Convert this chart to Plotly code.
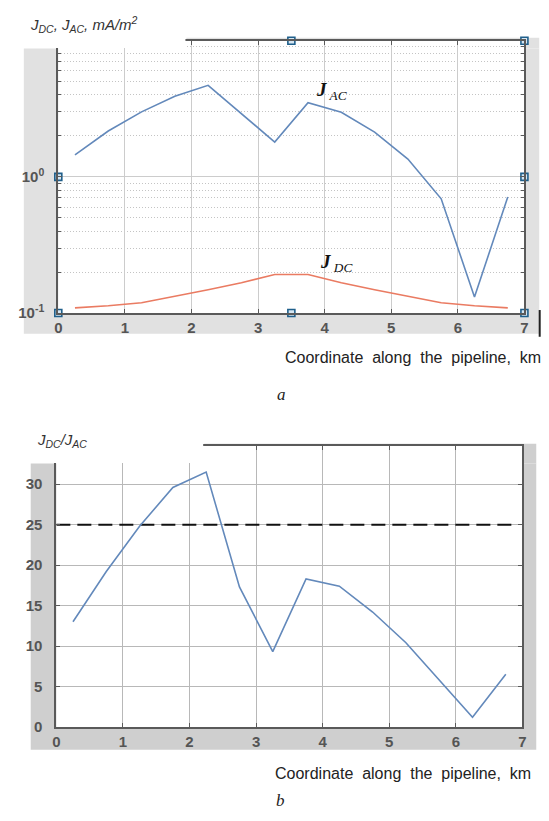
import plotly.graph_objects as go

# ---------------- data ----------------
x_km = [0.25, 0.75, 1.25, 1.75, 2.25, 2.75, 3.25, 3.75, 4.25, 4.75, 5.25, 5.75, 6.25, 6.75]
j_ac = [1.45, 2.17, 3.0, 3.9, 4.7, 2.9, 1.8, 3.5, 2.98, 2.13, 1.35, 0.69, 0.131, 0.71]
j_dc = [0.109, 0.113, 0.119, 0.132, 0.148, 0.167, 0.192, 0.192, 0.167, 0.148, 0.132, 0.119, 0.113, 0.109]
ratio = [13.0, 19.2, 24.8, 29.6, 31.5, 17.3, 9.3, 18.3, 17.4, 14.2, 10.4, 5.8, 1.2, 6.5]
threshold_x = [0.0, 6.85]
threshold_y = [25, 25]
handles_x = [0, 0, 3.5, 3.5, 7, 7, 7]
handles_y = [0.1, 1, 0.1, 10, 10, 1, 0.1]
x_ticks = [0, 1, 2, 3, 4, 5, 6, 7]
log_major = [0.1, 1, 10]
log_major_text = ["10<sup>-1</sup>", "10<sup>0</sup>", ""]
log_minor = [0.2, 0.3, 0.4, 0.5, 0.6, 0.7, 0.8, 0.9, 2, 3, 4, 5, 6, 7, 8, 9]
ratio_ticks = [0, 5, 10, 15, 20, 25, 30]

W, H = 549, 821
def px(x): return x / W
def py(y): return 1 - y / H

BLUE = "#6389bb"
RED = "#ea7b62"
FRAME = "#5a5a5a"
TICKFONT = dict(family="Arial, Liberation Sans", size=15, color="#555555", weight="bold")

fig = go.Figure()

# top plot traces
fig.add_trace(go.Scatter(x=x_km, y=j_ac, mode="lines", line=dict(color=BLUE, width=1.6),
                         xaxis="x", yaxis="y", showlegend=False))
fig.add_trace(go.Scatter(x=x_km, y=j_dc, mode="lines", line=dict(color=RED, width=1.6),
                         xaxis="x", yaxis="y", showlegend=False))
fig.add_trace(go.Scatter(x=handles_x, y=handles_y, mode="markers", cliponaxis=False,
                         marker=dict(symbol="square", size=7, color="#d6e6f2",
                                     line=dict(color="#1f5f8b", width=1.6)),
                         xaxis="x", yaxis="y", showlegend=False))
# bottom plot traces
fig.add_trace(go.Scatter(x=threshold_x, y=threshold_y, mode="lines",
                         line=dict(color="#111111", width=2, dash="14px,7px"),
                         xaxis="x2", yaxis="y2", showlegend=False))
fig.add_trace(go.Scatter(x=x_km, y=ratio, mode="lines", line=dict(color=BLUE, width=1.6),
                         xaxis="x2", yaxis="y2", showlegend=False))

shapes = []
def rect(x0, y0, x1, y1, color, layer="below"):
    shapes.append(dict(type="rect", xref="paper", yref="paper",
                       x0=px(x0), x1=px(x1), y0=py(y1), y1=py(y0),
                       fillcolor=color, line=dict(width=0), layer=layer))

# top panel background
rect(12, 41, 535, 329, "#e1e1e1")
rect(177, 30, 535, 41, "#e1e1e1")
rect(47, 33, 520, 308, "#ffffff")
# bottom panel background
rect(19, 460, 532, 749, "#cfcfcf")
rect(195, 440, 532, 460, "#cfcfcf")
rect(45, 442, 518, 726, "#ffffff")
# white masks in top-left corners
rect(38, 26, 176, 40.5, "#ffffff", layer="above")
rect(38, 434, 194, 459.5, "#ffffff", layer="above")
# small black bar at the right of top panel
shapes.append(dict(type="line", xref="paper", yref="paper", x0=px(535.5), x1=px(535.5),
                   y0=py(332), y1=py(305), line=dict(color="#222222", width=2)))

xcommon = dict(range=[0, 7], tickvals=x_ticks, ticks="inside", ticklen=4, tickcolor=FRAME,
               showline=True, linecolor=FRAME, linewidth=2, mirror="ticks",
               tickfont=TICKFONT, zeroline=False, fixedrange=True)

fig.update_layout(
    width=W, height=H, margin=dict(l=0, r=0, t=0, b=0),
    paper_bgcolor="white", plot_bgcolor="white",
    xaxis=dict(domain=[px(47), px(520)], anchor="y", showgrid=True, gridcolor="#cccccc",
               gridwidth=1, **xcommon),
    yaxis=dict(domain=[py(308), py(33)], anchor="x", type="log", range=[-1, 1],
               tickvals=log_major, ticktext=log_major_text, ticks="inside", ticklen=4,
               tickcolor=FRAME, showline=True, linecolor=FRAME, linewidth=2, mirror="ticks",
               showgrid=True, gridcolor="#cccccc", ticklabelstandoff=9,
               tickfont=dict(family="Arial, Liberation Sans", size=15, color="#555555", weight="bold"),
               minor=dict(tickvals=log_minor, ticks="inside", ticklen=3, tickcolor=FRAME,
                          showgrid=True, gridcolor="#c4c4c4", griddash="1px,2px", gridwidth=1),
               zeroline=False, fixedrange=True),
    xaxis2=dict(domain=[px(45), px(518)], anchor="y2", showgrid=True, gridcolor="#b8b8b8",
                gridwidth=1, **xcommon),
    yaxis2=dict(domain=[py(726), py(442)], anchor="x2", range=[0, 34.76],
                tickvals=ratio_ticks, ticks="inside", ticklen=4, tickcolor=FRAME,
                showline=True, linecolor=FRAME, linewidth=2, mirror="ticks",
                showgrid=True, gridcolor="#b8b8b8", tickfont=TICKFONT, ticklabelstandoff=9,
                zeroline=False, fixedrange=True),
    shapes=shapes,
)

ann = []
def text(x, y, s, size=13, family="Arial, Liberation Sans", color="#222222", xanchor="left"):
    ann.append(dict(xref="paper", yref="paper", x=px(x), y=py(y), text=s, showarrow=False,
                    xanchor=xanchor, yanchor="middle", font=dict(family=family, size=size, color=color)))

text(16, 17, "<i>J<sub>DC</sub>, J<sub>AC</sub>, mA/m<sup>2</sup></i>", size=15, color="#333333")
text(539, 353, "Coordinate  along  the  pipeline,  km", size=16, xanchor="right")
text(273, 390, "<i>a</i>", size=17, family="Liberation Serif, Times New Roman", xanchor="center")
text(306, 84, "<b><i>J</i></b><sub><i> AC</i></sub>", size=19, family="Liberation Serif, Times New Roman", color="#111111")
text(311, 258, "<b><i>J</i></b><sub><i> DC</i></sub>", size=19, family="Liberation Serif, Times New Roman", color="#111111")
text(23, 437, "<i>J<sub>DC</sub>/J<sub>AC</sub></i>", size=15, color="#333333")
text(529, 773, "Coordinate  along  the  pipeline,  km", size=16, xanchor="right")
text(272, 800, "<i>b</i>", size=17, family="Liberation Serif, Times New Roman", xanchor="center")
fig.update_layout(annotations=ann)

fig.write_html("out.html")
